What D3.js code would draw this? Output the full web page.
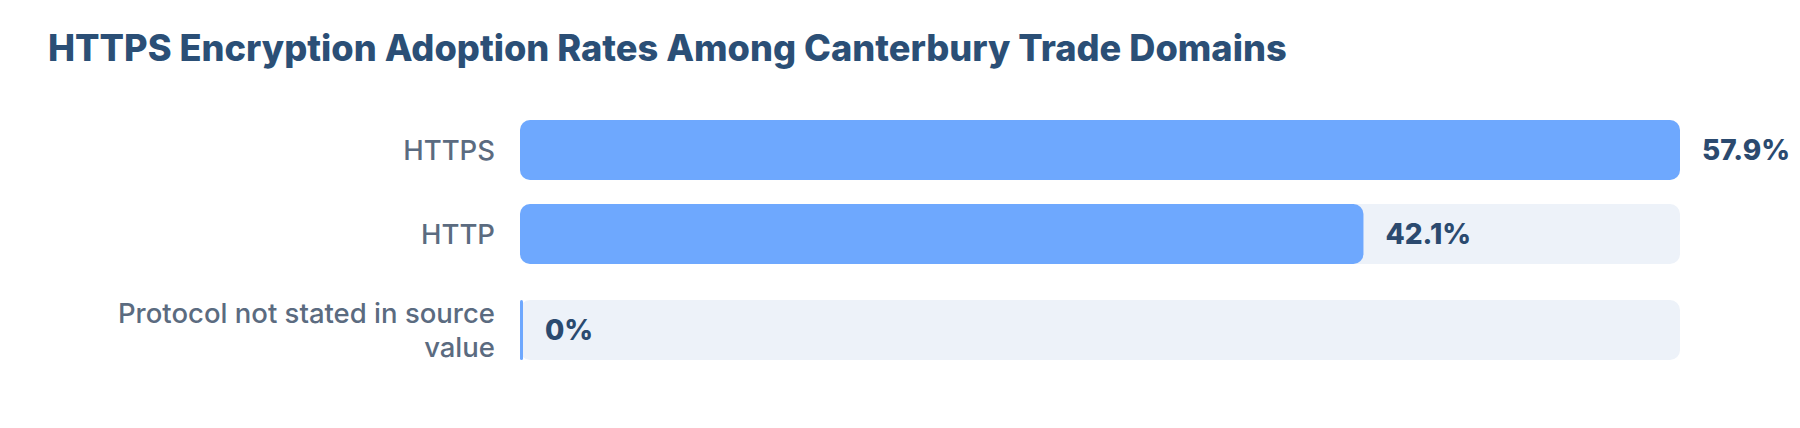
<!DOCTYPE html>
<html>
<head>
<meta charset="utf-8">
<script src="https://cdn.jsdelivr.net/npm/d3@7"></script>
<style>
  body { margin: 0; background: #fff; }
  svg { display: block; }
  .title { font-family: Inter, sans-serif; font-weight: 800; font-size: 36.2px; fill: #2b4f76; }
  .cat { font-family: Inter, sans-serif; font-weight: 500; font-size: 27.5px; fill: #5b6b80; }
  .val { font-family: Inter, sans-serif; font-weight: 800; font-size: 28px; fill: #2b4a6f; }
</style>
</head>
<body>
<div id="chart"></div>
<script>
const categories = ["HTTPS", "HTTP", "Protocol not stated in source value"];
const shares = [57.9, 42.1, 0];
const valueLabels = ["57.9%", "42.1%", "0%"];

const width = 1800, height = 428;
const barLeft = 520, barRight = 1680;
const barH = 60, rowGap = 24, lineH = 34;

const svg = d3.select("#chart").append("svg")
  .attr("width", width)
  .attr("height", height);

svg.append("text")
  .attr("class", "title")
  .attr("x", 48)
  .attr("y", 61)
  .text("HTTPS Encryption Adoption Rates Among Canterbury Trade Domains");

const x = d3.scaleLinear()
  .domain([0, d3.max(shares)])
  .range([barLeft, barRight]);

// wrap the category label into lines, right aligned
function wrapLines(text, maxWidth) {
  const probe = svg.append("text").attr("class", "cat");
  const words = text.split(/\s+/);
  const lines = [];
  let line = [];
  words.forEach(w => {
    line.push(w);
    probe.text(line.join(" "));
    if (probe.node().getComputedTextLength() > maxWidth && line.length > 1) {
      line.pop();
      lines.push(line.join(" "));
      line = [w];
    }
  });
  lines.push(line.join(" "));
  probe.remove();
  return lines;
}

const rows = categories.map((c, i) => ({
  cat: c,
  value: shares[i],
  label: valueLabels[i],
  lines: wrapLines(c, 420)
}));

// rows are stacked; a wrapped label makes its row taller
let rowTop = 120;
rows.forEach(r => {
  const rowH = r.lines.length > 1 ? r.lines.length * lineH + 16 : barH;
  r.y = rowTop + (rowH - barH) / 2;
  rowTop += rowH + rowGap;
});

const g = svg.append("g");

const row = g.selectAll("g.row")
  .data(rows)
  .join("g")
  .attr("class", "row");

row.append("rect")
  .attr("x", x(0))
  .attr("y", d => d.y)
  .attr("width", x.range()[1] - x(0))
  .attr("height", barH)
  .attr("rx", 10)
  .attr("fill", "#edf2f9");

row.append("rect")
  .attr("x", x(0))
  .attr("y", d => d.y)
  .attr("width", d => Math.max(3, x(d.value) - x(0)))
  .attr("height", barH)
  .attr("rx", d => Math.min(10, Math.max(1.5, (x(d.value) - x(0)) / 2)))
  .attr("fill", "#6ea8fe");

row.append("text")
  .attr("class", "val")
  .attr("x", d => Math.max(3, x(d.value) - x(0)) + x(0) + 22)
  .attr("y", d => d.y + barH / 2 + 10)
  .text(d => d.label);

row.each(function (d) {
  const t = d3.select(this).append("text")
    .attr("class", "cat")
    .attr("text-anchor", "end");
  const n = d.lines.length;
  d.lines.forEach((l, k) => {
    t.append("tspan")
      .attr("x", 495)
      .attr("y", d.y + barH / 2 + 10 + (k - (n - 1) / 2) * lineH)
      .text(l);
  });
});
</script>
</body>
</html>
